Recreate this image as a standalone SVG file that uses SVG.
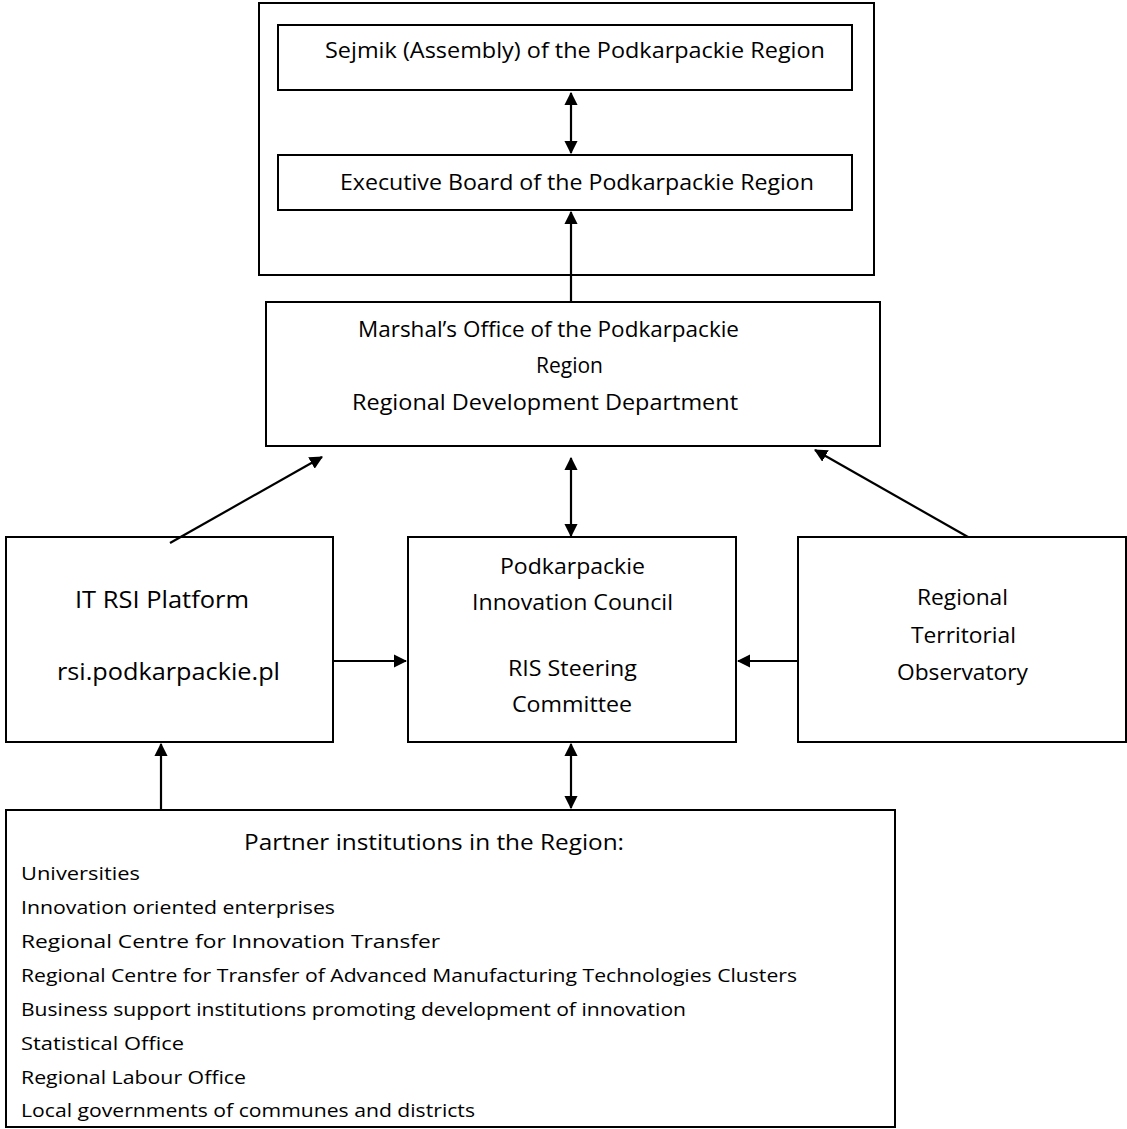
<svg xmlns="http://www.w3.org/2000/svg" width="1127" height="1129" viewBox="0 0 1127 1129">
<style>
.box{fill:#fff;stroke:#000;stroke-width:2}
.t{font-family:"Open Sans","Liberation Sans",sans-serif;fill:#000}
.m{font-size:22px}
.s{font-size:19px}
.c{stroke:#000;stroke-width:2.2;fill:none}
</style>
<defs>
<marker id="ah" viewBox="0 0 12 12" refX="11" refY="6" markerWidth="6" markerHeight="6" markerUnits="strokeWidth" orient="auto-start-reverse">
<path d="M0,0 L12,6 L0,12 z" fill="#000"/>
</marker>
</defs>
<rect width="1127" height="1129" fill="#fff"/>
<g id="governance">
<rect class="box" x="259" y="3" width="615" height="272"/>
</g>
<g id="sejmik">
<rect class="box" x="278" y="25" width="574" height="65"/>
<text class="t m" x="325" y="58" textLength="500" lengthAdjust="spacingAndGlyphs">Sejmik (Assembly) of the Podkarpackie Region</text>
</g>
<g id="executive">
<rect class="box" x="278" y="155" width="574" height="55"/>
<text class="t m" x="340" y="190" textLength="474" lengthAdjust="spacingAndGlyphs">Executive Board of the Podkarpackie Region</text>
</g>
<g id="marshal">
<rect class="box" x="266" y="302" width="614" height="144"/>
<text class="t m" x="358" y="337" textLength="381" lengthAdjust="spacingAndGlyphs">Marshal’s Office of the Podkarpackie</text>
<text class="t m" x="536" y="373" textLength="67" lengthAdjust="spacingAndGlyphs">Region</text>
<text class="t m" x="352" y="410" textLength="386" lengthAdjust="spacingAndGlyphs">Regional Development Department</text>
</g>
<g id="it-platform">
<rect class="box" x="6" y="537" width="327" height="205"/>
<text class="t" font-size="24" x="75" y="608" textLength="174" lengthAdjust="spacingAndGlyphs">IT RSI Platform</text>
<text class="t" font-size="24" x="57" y="680" textLength="223" lengthAdjust="spacingAndGlyphs">rsi.podkarpackie.pl</text>
</g>
<g id="council">
<rect class="box" x="408" y="537" width="328" height="205"/>
<text class="t m" x="500" y="574" textLength="145" lengthAdjust="spacingAndGlyphs">Podkarpackie</text>
<text class="t m" x="472" y="610" textLength="201" lengthAdjust="spacingAndGlyphs">Innovation Council</text>
<text class="t m" x="508" y="676" textLength="129" lengthAdjust="spacingAndGlyphs">RIS Steering</text>
<text class="t m" x="512" y="712" textLength="120" lengthAdjust="spacingAndGlyphs">Committee</text>
</g>
<g id="observatory">
<rect class="box" x="798" y="537" width="328" height="205"/>
<text class="t m" x="917" y="605" textLength="91" lengthAdjust="spacingAndGlyphs">Regional</text>
<text class="t m" x="911" y="643" textLength="105" lengthAdjust="spacingAndGlyphs">Territorial</text>
<text class="t m" x="897" y="680" textLength="131" lengthAdjust="spacingAndGlyphs">Observatory</text>
</g>
<g id="partners">
<rect class="box" x="6" y="810" width="889" height="317"/>
<text class="t m" x="244" y="850" textLength="380" lengthAdjust="spacingAndGlyphs">Partner institutions in the Region:</text>
<text class="t s" x="21" y="880" textLength="119" lengthAdjust="spacingAndGlyphs">Universities</text>
<text class="t s" x="21" y="914" textLength="314" lengthAdjust="spacingAndGlyphs">Innovation oriented enterprises</text>
<text class="t s" x="21" y="948" textLength="419" lengthAdjust="spacingAndGlyphs">Regional Centre for Innovation Transfer</text>
<text class="t s" x="21" y="982" textLength="776" lengthAdjust="spacingAndGlyphs">Regional Centre for Transfer of Advanced Manufacturing Technologies Clusters</text>
<text class="t s" x="21" y="1016" textLength="665" lengthAdjust="spacingAndGlyphs">Business support institutions promoting development of innovation</text>
<text class="t s" x="21" y="1050" textLength="163" lengthAdjust="spacingAndGlyphs">Statistical Office</text>
<text class="t s" x="21" y="1084" textLength="225" lengthAdjust="spacingAndGlyphs">Regional Labour Office</text>
<text class="t s" x="21" y="1117" textLength="454" lengthAdjust="spacingAndGlyphs">Local governments of communes and districts</text>
</g>
<g id="connectors">
<line class="c" x1="571" y1="93" x2="571" y2="153" marker-start="url(#ah)" marker-end="url(#ah)"/>
<line class="c" x1="571" y1="302" x2="571" y2="212" marker-end="url(#ah)"/>
<line class="c" x1="571" y1="458" x2="571" y2="536" marker-start="url(#ah)" marker-end="url(#ah)"/>
<line class="c" x1="170" y1="543" x2="322" y2="457" marker-end="url(#ah)"/>
<line class="c" x1="968" y1="537" x2="815" y2="450" marker-end="url(#ah)"/>
<line class="c" x1="332" y1="661" x2="406" y2="661" marker-end="url(#ah)"/>
<line class="c" x1="798" y1="661" x2="738" y2="661" marker-end="url(#ah)"/>
<line class="c" x1="161" y1="810" x2="161" y2="744" marker-end="url(#ah)"/>
<line class="c" x1="571" y1="744" x2="571" y2="808" marker-start="url(#ah)" marker-end="url(#ah)"/>
</g>
</svg>
